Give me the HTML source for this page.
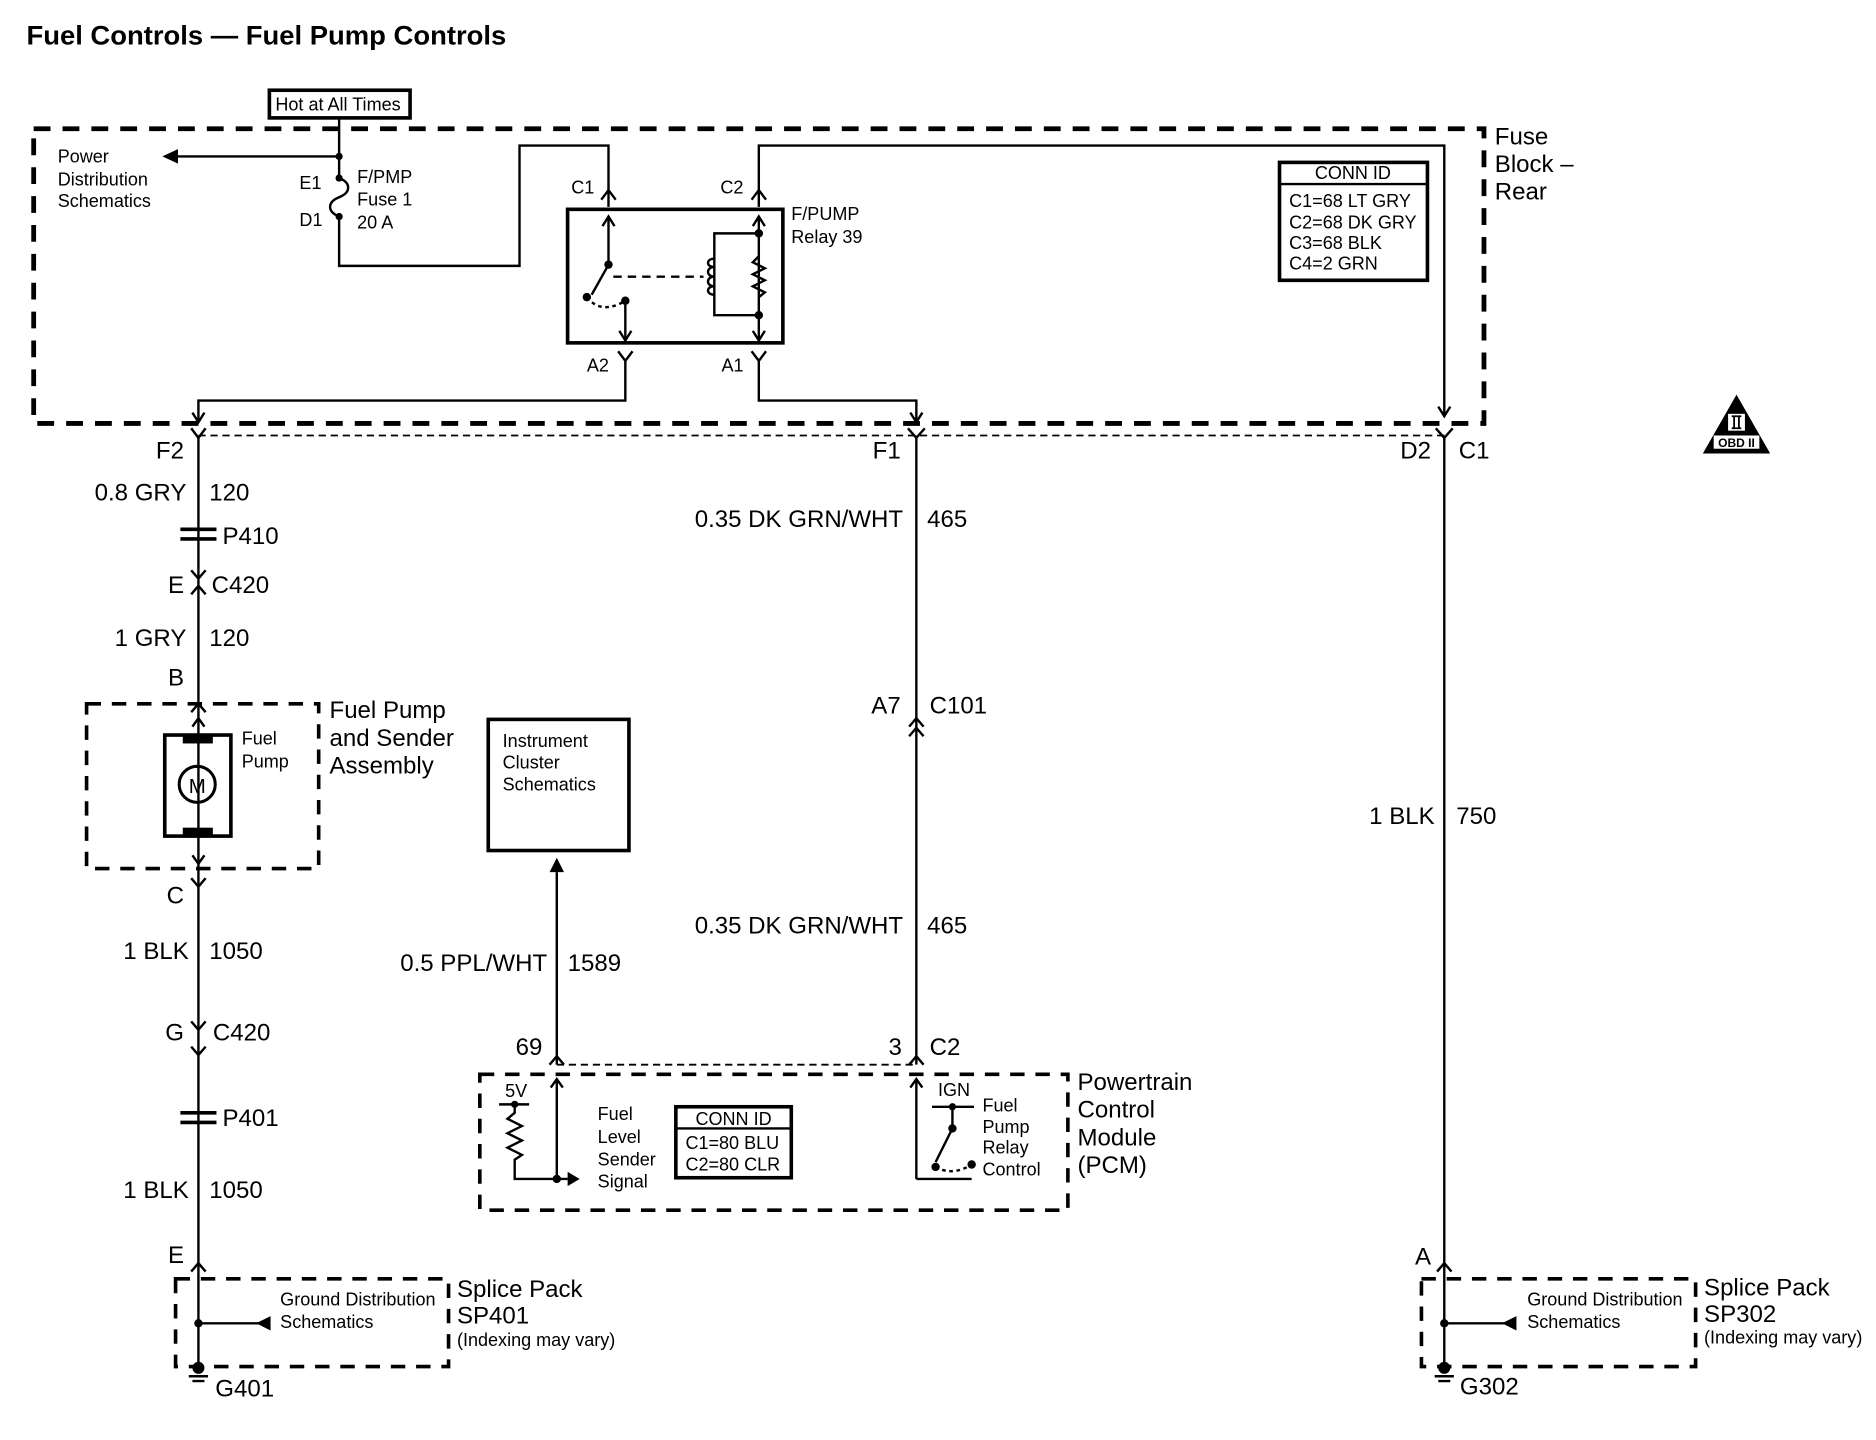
<!DOCTYPE html>
<html><head><meta charset="utf-8"><style>
html,body{margin:0;padding:0;background:#fff;}
svg{display:block;}
text{font-family:"Liberation Sans Narrow","Liberation Sans",sans-serif;fill:#000;}
</style></head><body>
<svg width="1876" height="1440" viewBox="0 0 1560 1197" preserveAspectRatio="none" xmlns="http://www.w3.org/2000/svg">
<g fill="none" stroke="#000" stroke-width="2">
<rect x="28" y="107" width="1206" height="245" stroke-width="4" stroke-dasharray="14 10"/>
<rect x="224" y="75" width="117" height="23" stroke-width="3"/>
<path d="M282 98 V148"/>
<path d="M282 130 H148"/>
<path d="M282 148 C292 152 292 160 282 164 C272 168 272 176 282 180"/>
<path d="M282 180 V221 H432 V121 H506 V172"/>
<path d="M500 166 L506 158 L512 166"/>
<path d="M631 172 V121 H1201 V345"/>
<path d="M625 166 L631 158 L637 166"/>
<rect x="472" y="174" width="179" height="111" stroke-width="3"/>
<path d="M506 180 V220 L492 245"/>
<path d="M501 188 L506 180 L511 188"/>
<path d="M488 247 Q500 262 520 250" stroke-dasharray="3 3"/>
<path d="M520 250 V282"/>
<path d="M515 275 L520 283 L525 275"/>
<path d="M510 230 H585" stroke-dasharray="7 5"/>
<path d="M631 180 V282 M626 188 L631 180 L636 188 M626 275 L631 283 L636 275"/>
<path d="M631 194 H594 V262 H631"/>
<path d="M594 215 c-7 0 -7 7 0 7 c-7 0 -7 8 0 8 c-7 0 -7 8 0 8 c-7 0 -7 7 0 7" stroke-width="2"/>
<path d="M631 213 l-5 5 l10 5 l-10 5 l10 5 l-10 5 l10 5 l-5 4"/>
<path d="M514 292 L520 300 L526 292 M520 300 V333 H165 V350"/>
<path d="M160 343 L165 351 L170 343"/>
<path d="M625 292 L631 300 L637 292 M631 300 V333 H762 V350"/>
<path d="M757 343 L762 351 L767 343"/>
<path d="M1196 338 L1201 346 L1206 338"/>
<rect x="1064" y="135" width="123" height="98" stroke-width="3"/>
<path d="M1064 153 H1187"/>
<path d="M165 362 H1201" stroke-width="1.5" stroke-dasharray="6 4"/>
<path d="M159 356 L165 364 L171 356 M755 356 L762 364 L769 356 M1194 356 L1201 364 L1208 356"/>
<path d="M165 362 V1137"/>
<path d="M150 440 H180 M150 448 H180" stroke-width="3"/>
<path d="M159 474 L165 481 L171 474 M159 494 L165 487 L171 494"/>
<path d="M159 592 L165 585 L171 592"/>
<rect x="72" y="585" width="193" height="137" stroke-width="3" stroke-dasharray="12 9"/>
<rect x="137" y="611" width="55" height="84" stroke-width="3"/>
<path d="M160 604 L165 597 L170 604 M160 711 L165 718 L170 711"/>
<circle cx="164" cy="652" r="15" stroke-width="2.5"/>
<path d="M159 730 L165 737 L171 730 M159 849 L165 856 L171 849 M159 870 L165 877 L171 870"/>
<path d="M150 925 H180 M150 933 H180" stroke-width="3"/>
<path d="M159 1057 L165 1050 L171 1057"/>
<rect x="146" y="1063" width="227" height="73" stroke-width="3" stroke-dasharray="12 9"/>
<path d="M165 1100 H215"/>
<path d="M762 362 V885"/>
<path d="M756 604 L762 597 L768 604 M756 612 L762 605 L768 612"/>
<path d="M756 885 L762 878 L768 885"/>
<rect x="406" y="598" width="117" height="109" stroke-width="3"/>
<path d="M463 885 V725"/>
<path d="M457 885 L463 878 L469 885"/>
<path d="M463 885 H762" stroke-width="1.5" stroke-dasharray="6 4"/>
<rect x="399" y="893" width="489" height="113" stroke-width="3" stroke-dasharray="12 9"/>
<path d="M415 918 H440 M428 918 V925 l-6 5 l12 6 l-12 6 l12 6 l-12 6 l12 6 l-6 4 V980 H472"/>
<path d="M463 980 V897 M458 904 L463 897 L468 904"/>
<rect x="562" y="920" width="96" height="59" stroke-width="3"/>
<path d="M562 938 H658"/>
<path d="M762 980 V897 M757 904 L762 897 L767 904"/>
<path d="M762 980 H808"/>
<path d="M775 920 H810 M792 920 V938 L778 966"/>
<path d="M778 970 Q792 978 808 968" stroke-dasharray="3 3"/>
<path d="M1201 362 V1137"/>
<path d="M1195 1057 L1201 1050 L1207 1057"/>
<rect x="1182" y="1063" width="228" height="73" stroke-width="3" stroke-dasharray="12 9"/>
<path d="M1201 1100 H1251"/>
</g>
<g fill="#000">
<path d="M135 130 L148 124 L148 136 Z"/>
<circle cx="282" cy="130" r="3"/><circle cx="282" cy="148" r="3"/><circle cx="282" cy="180" r="3"/>
<circle cx="506" cy="220" r="3.5"/><circle cx="488" cy="247" r="3.5"/><circle cx="520" cy="250" r="3.5"/>
<circle cx="631" cy="194" r="3.5"/><circle cx="631" cy="262" r="3.5"/>
<rect x="152" y="611" width="25" height="7"/><rect x="152" y="688" width="25" height="7"/>
<path d="M457 725 L463 713 L469 725 Z"/>
<path d="M472 974 L482 980 L472 986 Z"/>
<circle cx="428" cy="918" r="3"/><circle cx="463" cy="980" r="3.5"/>
<circle cx="792" cy="920" r="3"/><circle cx="792" cy="938" r="3.5"/><circle cx="778" cy="970" r="3.5"/><circle cx="808" cy="968" r="3.5"/>
<circle cx="165" cy="1100" r="3.5"/><path d="M213 1094 L225 1100 L213 1106 Z" transform="rotate(180 219 1100)"/>
<circle cx="1201" cy="1100" r="3.5"/><path d="M1249 1094 L1261 1100 L1249 1106 Z" transform="rotate(180 1255 1100)"/>
<circle cx="165" cy="1137" r="5"/><path d="M157 1143 H173 V1145 H157 Z M160 1147 H170 V1149 H160 Z"/>
<circle cx="1201" cy="1137" r="5"/><path d="M1193 1143 H1209 V1145 H1193 Z M1196 1147 H1206 V1149 H1196 Z"/>
<path d="M1444 328 L1472 377 L1416 377 Z"/>
</g>
<rect x="1437" y="344" width="14" height="14" fill="#fff"/>
<path d="M1440 346 H1448 M1440 356 H1448 M1442 346 V356 M1446 346 V356" stroke="#000" stroke-width="1.5"/>
<rect x="1425" y="362" width="38" height="11" fill="#fff"/>
<text x="1444" y="371.5" font-size="10" font-weight="bold" text-anchor="middle">OBD II</text>

<text x="22" y="37" font-size="22" font-weight="bold" textLength="399" lengthAdjust="spacingAndGlyphs" font-family="Liberation Sans, sans-serif">Fuel Controls — Fuel Pump Controls</text>
<g font-size="15">
<text x="229" y="92" font-size="15">Hot at All Times</text>
<text x="48" y="135">Power</text><text x="48" y="154">Distribution</text><text x="48" y="172">Schematics</text>
<text x="249" y="157">E1</text><text x="249" y="188">D1</text>
<text x="297" y="152">F/PMP</text><text x="297" y="171">Fuse 1</text><text x="297" y="190">20 A</text>
<text x="475" y="161">C1</text><text x="599" y="161">C2</text>
<text x="658" y="183">F/PUMP</text><text x="658" y="202">Relay 39</text>
<text x="488" y="309">A2</text><text x="600" y="309">A1</text>
<text x="1125" y="149" text-anchor="middle">CONN ID</text>
<text x="1072" y="172">C1=68 LT GRY</text><text x="1072" y="190">C2=68 DK GRY</text>
<text x="1072" y="207">C3=68 BLK</text><text x="1072" y="224">C4=2 GRN</text>
<text x="201" y="619">Fuel</text><text x="201" y="638">Pump</text>
<text x="418" y="621">Instrument</text><text x="418" y="639">Cluster</text><text x="418" y="657">Schematics</text>
<text x="420" y="912">5V</text>
<text x="497" y="931">Fuel</text><text x="497" y="950">Level</text><text x="497" y="969">Sender</text><text x="497" y="987">Signal</text>
<text x="610" y="935" text-anchor="middle">CONN ID</text>
<text x="570" y="955">C1=80 BLU</text><text x="570" y="973">C2=80 CLR</text>
<text x="780" y="911">IGN</text>
<text x="817" y="924">Fuel</text><text x="817" y="942">Pump</text><text x="817" y="959">Relay</text><text x="817" y="977">Control</text>
<text x="233" y="1085">Ground Distribution</text><text x="233" y="1104">Schematics</text>
<text x="380" y="1119">(Indexing may vary)</text>
<text x="1270" y="1085">Ground Distribution</text><text x="1270" y="1104">Schematics</text>
<text x="1417" y="1117">(Indexing may vary)</text>
</g>
<g font-size="20">
<text x="1243" y="120">Fuse</text><text x="1243" y="143">Block –</text><text x="1243" y="166">Rear</text>
<text x="153" y="381" text-anchor="end">F2</text>
<text x="749" y="381" text-anchor="end">F1</text>
<text x="1190" y="381" text-anchor="end">D2</text><text x="1213" y="381">C1</text>
<text x="155" y="416" text-anchor="end">0.8 GRY</text><text x="174" y="416">120</text>
<text x="185" y="452">P410</text>
<text x="153" y="493" text-anchor="end">E</text><text x="176" y="493">C420</text>
<text x="155" y="537" text-anchor="end">1 GRY</text><text x="174" y="537">120</text>
<text x="153" y="570" text-anchor="end">B</text>
<text x="274" y="597">Fuel Pump</text><text x="274" y="620">and Sender</text><text x="274" y="643">Assembly</text>
<text x="153" y="751" text-anchor="end">C</text>
<text x="157" y="797" text-anchor="end">1 BLK</text><text x="174" y="797">1050</text>
<text x="153" y="865" text-anchor="end">G</text><text x="177" y="865">C420</text>
<text x="185" y="936">P401</text>
<text x="157" y="996" text-anchor="end">1 BLK</text><text x="174" y="996">1050</text>
<text x="153" y="1050" text-anchor="end">E</text>
<text x="380" y="1078">Splice Pack</text><text x="380" y="1100">SP401</text>
<text x="179" y="1161">G401</text>
<text x="751" y="438" text-anchor="end">0.35 DK GRN/WHT</text><text x="771" y="438">465</text>
<text x="749" y="593" text-anchor="end">A7</text><text x="773" y="593">C101</text>
<text x="751" y="776" text-anchor="end">0.35 DK GRN/WHT</text><text x="771" y="776">465</text>
<text x="455" y="807" text-anchor="end">0.5 PPL/WHT</text><text x="472" y="807">1589</text>
<text x="451" y="877" text-anchor="end">69</text>
<text x="750" y="877" text-anchor="end">3</text><text x="773" y="877">C2</text>
<text x="896" y="906">Powertrain</text><text x="896" y="929">Control</text><text x="896" y="952">Module</text><text x="896" y="975">(PCM)</text>
<text x="1193" y="685" text-anchor="end">1 BLK</text><text x="1211" y="685">750</text>
<text x="1190" y="1051" text-anchor="end">A</text>
<text x="1417" y="1077">Splice Pack</text><text x="1417" y="1099">SP302</text>
<text x="1214" y="1159">G302</text>
<text x="164" y="659" text-anchor="middle" font-size="17">M</text>
</g>
</svg>
</body></html>
